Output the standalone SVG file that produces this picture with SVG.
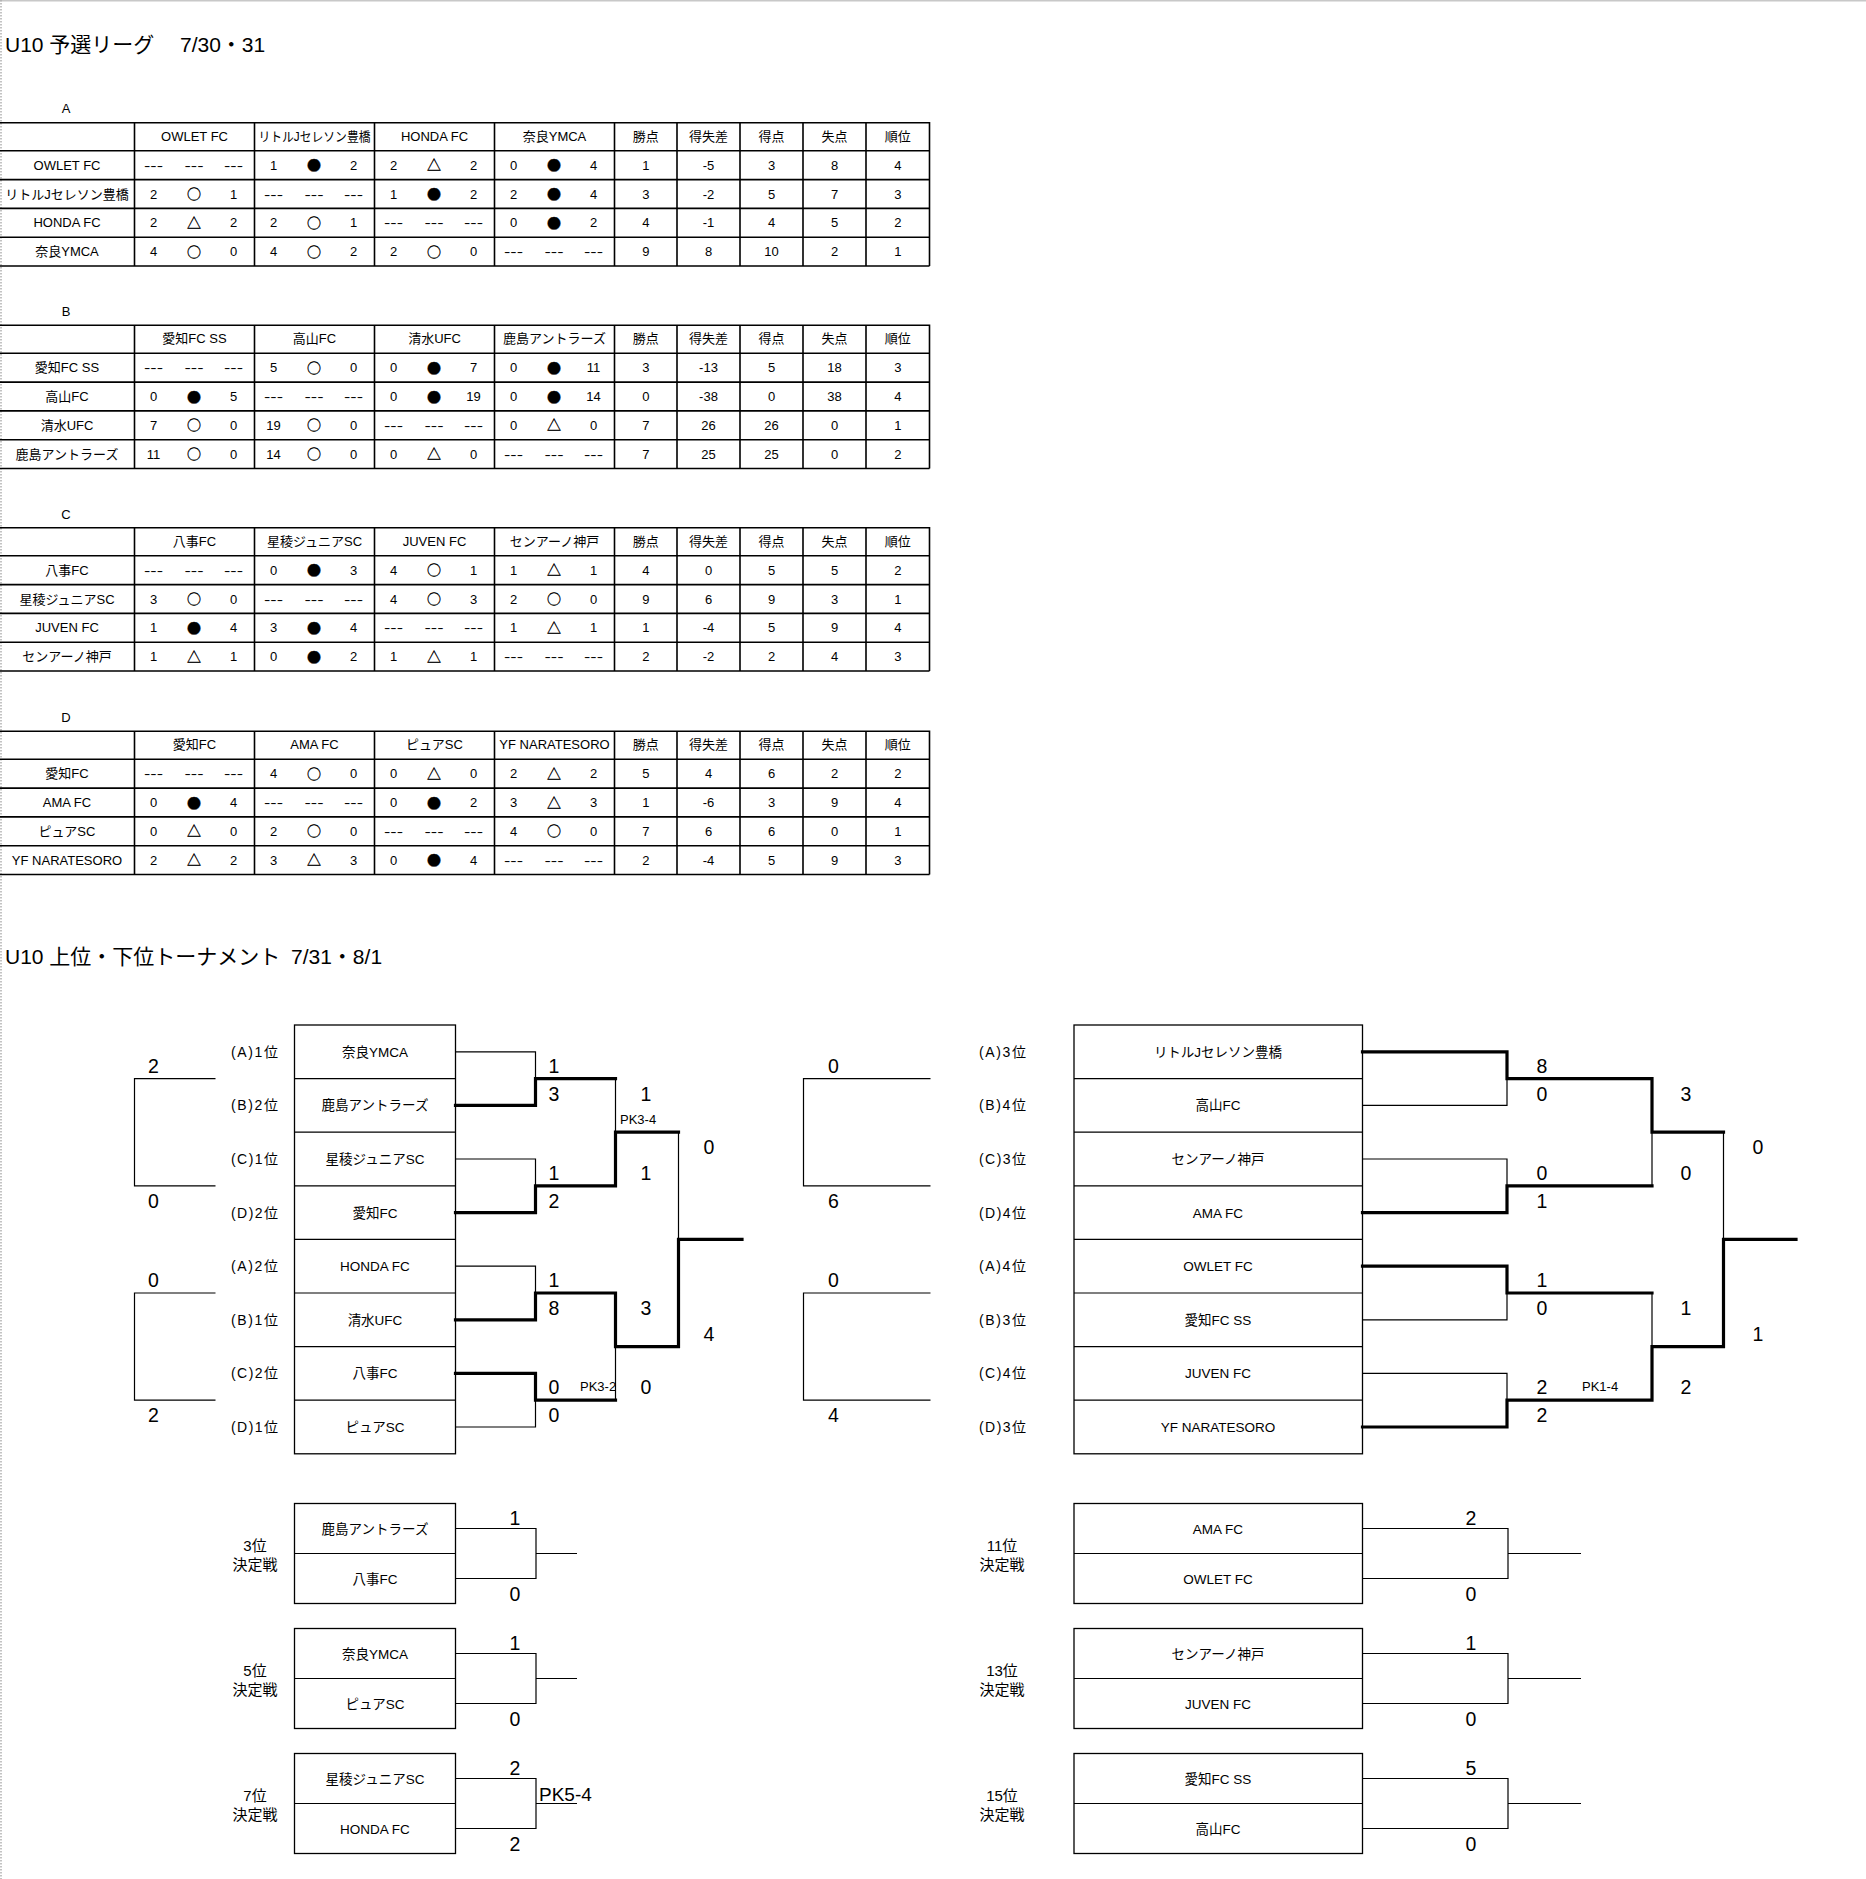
<svg xmlns="http://www.w3.org/2000/svg" width="1866" height="1879" viewBox="0 0 1866 1879">
<style>
text{font-family:"Liberation Sans","Noto Sans CJK JP",sans-serif;fill:#000}
.t{font-size:13px;text-anchor:middle}
.s{font-family:"Noto Sans CJK JP",sans-serif;font-size:14px;text-anchor:middle;stroke:#000;stroke-width:0.35}
.d{font-size:13px;text-anchor:middle}
.ttl{font-size:21px}
.g{font-size:13px;text-anchor:middle}
.grid{stroke:#000;stroke-width:1.6;fill:none}
.box{stroke:#000;stroke-width:1.3;fill:#fff}
.thin{stroke:#000;stroke-width:1.2;fill:none}
.thick{stroke:#000;stroke-width:3.2;fill:none;stroke-linecap:square}
.sc{font-size:19.5px;text-anchor:middle}
.lb{font-size:14px;text-anchor:end}
.nm{font-size:13.5px;text-anchor:middle}
.pk{font-size:13px}
.pl{font-size:15px;text-anchor:middle}
</style>
<defs>
<g id="grid"><path class="grid" d="M0 0.8H929.5M0 28.8H929.5M0 57.6H929.5M0 86.4H929.5M0 115.2H929.5M0 144H929.5M134.5 0V144M254.5 0V144M374.5 0V144M494.5 0V144M614.5 0V144M677 0V144M740 0V144M803 0V144M866 0V144M929.5 0V144"/></g>
<clipPath id="clipPK"><rect x="560" y="1370" width="55" height="30"/></clipPath>
</defs>
<rect width="1866" height="1879" fill="#fff"/>
<line x1="0" y1="0.75" x2="1866" y2="0.75" stroke="#c8c8c8" stroke-width="1.5"/>
<line x1="1" y1="0" x2="1" y2="1879" stroke="#b0b0b0" stroke-width="1.5" stroke-dasharray="1.5 1.5"/>

<text class="ttl" x="5" y="52">U10 予選リーグ <tspan x="180">7/30・31</tspan></text>

<text class="g" x="66" y="113">A</text>
<g id="table-A" transform="translate(0,122)">
<use href="#grid"/>
<text class="t" x="194.5" y="18.9">OWLET FC</text><text class="t" x="314.5" y="18.9" textLength="112" lengthAdjust="spacingAndGlyphs">リトルJセレソン豊橋</text><text class="t" x="434.5" y="18.9">HONDA FC</text><text class="t" x="554.5" y="18.9">奈良YMCA</text>
<text class="t" x="645.75" y="18.9">勝点</text><text class="t" x="708.5" y="18.9">得失差</text><text class="t" x="771.5" y="18.9">得点</text><text class="t" x="834.5" y="18.9">失点</text><text class="t" x="897.75" y="18.9">順位</text>
<text class="t" x="67" y="47.7">OWLET FC</text>
<text class="d" x="153.5" y="47.7" textLength="19" lengthAdjust="spacingAndGlyphs">---</text><text class="d" x="194" y="47.7" textLength="19" lengthAdjust="spacingAndGlyphs">---</text><text class="d" x="233.5" y="47.7" textLength="19" lengthAdjust="spacingAndGlyphs">---</text>
<text class="t" x="273.5" y="47.7">1</text><text class="s" x="314" y="48.2">●</text><text class="t" x="353.5" y="47.7">2</text>
<text class="t" x="393.5" y="47.7">2</text><text class="s" x="434" y="48.2">△</text><text class="t" x="473.5" y="47.7">2</text>
<text class="t" x="513.5" y="47.7">0</text><text class="s" x="554" y="48.2">●</text><text class="t" x="593.5" y="47.7">4</text>
<text class="t" x="645.75" y="47.7">1</text><text class="t" x="708.5" y="47.7">-5</text><text class="t" x="771.5" y="47.7">3</text><text class="t" x="834.5" y="47.7">8</text><text class="t" x="897.75" y="47.7">4</text>
<text class="t" x="67" y="76.5">リトルJセレソン豊橋</text>
<text class="t" x="153.5" y="76.5">2</text><text class="s" x="194" y="77">○</text><text class="t" x="233.5" y="76.5">1</text>
<text class="d" x="273.5" y="76.5" textLength="19" lengthAdjust="spacingAndGlyphs">---</text><text class="d" x="314" y="76.5" textLength="19" lengthAdjust="spacingAndGlyphs">---</text><text class="d" x="353.5" y="76.5" textLength="19" lengthAdjust="spacingAndGlyphs">---</text>
<text class="t" x="393.5" y="76.5">1</text><text class="s" x="434" y="77">●</text><text class="t" x="473.5" y="76.5">2</text>
<text class="t" x="513.5" y="76.5">2</text><text class="s" x="554" y="77">●</text><text class="t" x="593.5" y="76.5">4</text>
<text class="t" x="645.75" y="76.5">3</text><text class="t" x="708.5" y="76.5">-2</text><text class="t" x="771.5" y="76.5">5</text><text class="t" x="834.5" y="76.5">7</text><text class="t" x="897.75" y="76.5">3</text>
<text class="t" x="67" y="105.3">HONDA FC</text>
<text class="t" x="153.5" y="105.3">2</text><text class="s" x="194" y="105.8">△</text><text class="t" x="233.5" y="105.3">2</text>
<text class="t" x="273.5" y="105.3">2</text><text class="s" x="314" y="105.8">○</text><text class="t" x="353.5" y="105.3">1</text>
<text class="d" x="393.5" y="105.3" textLength="19" lengthAdjust="spacingAndGlyphs">---</text><text class="d" x="434" y="105.3" textLength="19" lengthAdjust="spacingAndGlyphs">---</text><text class="d" x="473.5" y="105.3" textLength="19" lengthAdjust="spacingAndGlyphs">---</text>
<text class="t" x="513.5" y="105.3">0</text><text class="s" x="554" y="105.8">●</text><text class="t" x="593.5" y="105.3">2</text>
<text class="t" x="645.75" y="105.3">4</text><text class="t" x="708.5" y="105.3">-1</text><text class="t" x="771.5" y="105.3">4</text><text class="t" x="834.5" y="105.3">5</text><text class="t" x="897.75" y="105.3">2</text>
<text class="t" x="67" y="134.1">奈良YMCA</text>
<text class="t" x="153.5" y="134.1">4</text><text class="s" x="194" y="134.6">○</text><text class="t" x="233.5" y="134.1">0</text>
<text class="t" x="273.5" y="134.1">4</text><text class="s" x="314" y="134.6">○</text><text class="t" x="353.5" y="134.1">2</text>
<text class="t" x="393.5" y="134.1">2</text><text class="s" x="434" y="134.6">○</text><text class="t" x="473.5" y="134.1">0</text>
<text class="d" x="513.5" y="134.1" textLength="19" lengthAdjust="spacingAndGlyphs">---</text><text class="d" x="554" y="134.1" textLength="19" lengthAdjust="spacingAndGlyphs">---</text><text class="d" x="593.5" y="134.1" textLength="19" lengthAdjust="spacingAndGlyphs">---</text>
<text class="t" x="645.75" y="134.1">9</text><text class="t" x="708.5" y="134.1">8</text><text class="t" x="771.5" y="134.1">10</text><text class="t" x="834.5" y="134.1">2</text><text class="t" x="897.75" y="134.1">1</text>
</g>

<text class="g" x="66" y="316">B</text>
<g id="table-B" transform="translate(0,324.5)">
<use href="#grid"/>
<text class="t" x="194.5" y="18.9">愛知FC SS</text><text class="t" x="314.5" y="18.9">高山FC</text><text class="t" x="434.5" y="18.9">清水UFC</text><text class="t" x="554.5" y="18.9">鹿島アントラーズ</text>
<text class="t" x="645.75" y="18.9">勝点</text><text class="t" x="708.5" y="18.9">得失差</text><text class="t" x="771.5" y="18.9">得点</text><text class="t" x="834.5" y="18.9">失点</text><text class="t" x="897.75" y="18.9">順位</text>
<text class="t" x="67" y="47.7">愛知FC SS</text>
<text class="d" x="153.5" y="47.7" textLength="19" lengthAdjust="spacingAndGlyphs">---</text><text class="d" x="194" y="47.7" textLength="19" lengthAdjust="spacingAndGlyphs">---</text><text class="d" x="233.5" y="47.7" textLength="19" lengthAdjust="spacingAndGlyphs">---</text>
<text class="t" x="273.5" y="47.7">5</text><text class="s" x="314" y="48.2">○</text><text class="t" x="353.5" y="47.7">0</text>
<text class="t" x="393.5" y="47.7">0</text><text class="s" x="434" y="48.2">●</text><text class="t" x="473.5" y="47.7">7</text>
<text class="t" x="513.5" y="47.7">0</text><text class="s" x="554" y="48.2">●</text><text class="t" x="593.5" y="47.7">11</text>
<text class="t" x="645.75" y="47.7">3</text><text class="t" x="708.5" y="47.7">-13</text><text class="t" x="771.5" y="47.7">5</text><text class="t" x="834.5" y="47.7">18</text><text class="t" x="897.75" y="47.7">3</text>
<text class="t" x="67" y="76.5">高山FC</text>
<text class="t" x="153.5" y="76.5">0</text><text class="s" x="194" y="77">●</text><text class="t" x="233.5" y="76.5">5</text>
<text class="d" x="273.5" y="76.5" textLength="19" lengthAdjust="spacingAndGlyphs">---</text><text class="d" x="314" y="76.5" textLength="19" lengthAdjust="spacingAndGlyphs">---</text><text class="d" x="353.5" y="76.5" textLength="19" lengthAdjust="spacingAndGlyphs">---</text>
<text class="t" x="393.5" y="76.5">0</text><text class="s" x="434" y="77">●</text><text class="t" x="473.5" y="76.5">19</text>
<text class="t" x="513.5" y="76.5">0</text><text class="s" x="554" y="77">●</text><text class="t" x="593.5" y="76.5">14</text>
<text class="t" x="645.75" y="76.5">0</text><text class="t" x="708.5" y="76.5">-38</text><text class="t" x="771.5" y="76.5">0</text><text class="t" x="834.5" y="76.5">38</text><text class="t" x="897.75" y="76.5">4</text>
<text class="t" x="67" y="105.3">清水UFC</text>
<text class="t" x="153.5" y="105.3">7</text><text class="s" x="194" y="105.8">○</text><text class="t" x="233.5" y="105.3">0</text>
<text class="t" x="273.5" y="105.3">19</text><text class="s" x="314" y="105.8">○</text><text class="t" x="353.5" y="105.3">0</text>
<text class="d" x="393.5" y="105.3" textLength="19" lengthAdjust="spacingAndGlyphs">---</text><text class="d" x="434" y="105.3" textLength="19" lengthAdjust="spacingAndGlyphs">---</text><text class="d" x="473.5" y="105.3" textLength="19" lengthAdjust="spacingAndGlyphs">---</text>
<text class="t" x="513.5" y="105.3">0</text><text class="s" x="554" y="105.8">△</text><text class="t" x="593.5" y="105.3">0</text>
<text class="t" x="645.75" y="105.3">7</text><text class="t" x="708.5" y="105.3">26</text><text class="t" x="771.5" y="105.3">26</text><text class="t" x="834.5" y="105.3">0</text><text class="t" x="897.75" y="105.3">1</text>
<text class="t" x="67" y="134.1">鹿島アントラーズ</text>
<text class="t" x="153.5" y="134.1">11</text><text class="s" x="194" y="134.6">○</text><text class="t" x="233.5" y="134.1">0</text>
<text class="t" x="273.5" y="134.1">14</text><text class="s" x="314" y="134.6">○</text><text class="t" x="353.5" y="134.1">0</text>
<text class="t" x="393.5" y="134.1">0</text><text class="s" x="434" y="134.6">△</text><text class="t" x="473.5" y="134.1">0</text>
<text class="d" x="513.5" y="134.1" textLength="19" lengthAdjust="spacingAndGlyphs">---</text><text class="d" x="554" y="134.1" textLength="19" lengthAdjust="spacingAndGlyphs">---</text><text class="d" x="593.5" y="134.1" textLength="19" lengthAdjust="spacingAndGlyphs">---</text>
<text class="t" x="645.75" y="134.1">7</text><text class="t" x="708.5" y="134.1">25</text><text class="t" x="771.5" y="134.1">25</text><text class="t" x="834.5" y="134.1">0</text><text class="t" x="897.75" y="134.1">2</text>
</g>

<text class="g" x="66" y="518.5">C</text>
<g id="table-C" transform="translate(0,527)">
<use href="#grid"/>
<text class="t" x="194.5" y="18.9">八事FC</text><text class="t" x="314.5" y="18.9">星稜ジュニアSC</text><text class="t" x="434.5" y="18.9">JUVEN FC</text><text class="t" x="554.5" y="18.9">センアーノ神戸</text>
<text class="t" x="645.75" y="18.9">勝点</text><text class="t" x="708.5" y="18.9">得失差</text><text class="t" x="771.5" y="18.9">得点</text><text class="t" x="834.5" y="18.9">失点</text><text class="t" x="897.75" y="18.9">順位</text>
<text class="t" x="67" y="47.7">八事FC</text>
<text class="d" x="153.5" y="47.7" textLength="19" lengthAdjust="spacingAndGlyphs">---</text><text class="d" x="194" y="47.7" textLength="19" lengthAdjust="spacingAndGlyphs">---</text><text class="d" x="233.5" y="47.7" textLength="19" lengthAdjust="spacingAndGlyphs">---</text>
<text class="t" x="273.5" y="47.7">0</text><text class="s" x="314" y="48.2">●</text><text class="t" x="353.5" y="47.7">3</text>
<text class="t" x="393.5" y="47.7">4</text><text class="s" x="434" y="48.2">○</text><text class="t" x="473.5" y="47.7">1</text>
<text class="t" x="513.5" y="47.7">1</text><text class="s" x="554" y="48.2">△</text><text class="t" x="593.5" y="47.7">1</text>
<text class="t" x="645.75" y="47.7">4</text><text class="t" x="708.5" y="47.7">0</text><text class="t" x="771.5" y="47.7">5</text><text class="t" x="834.5" y="47.7">5</text><text class="t" x="897.75" y="47.7">2</text>
<text class="t" x="67" y="76.5">星稜ジュニアSC</text>
<text class="t" x="153.5" y="76.5">3</text><text class="s" x="194" y="77">○</text><text class="t" x="233.5" y="76.5">0</text>
<text class="d" x="273.5" y="76.5" textLength="19" lengthAdjust="spacingAndGlyphs">---</text><text class="d" x="314" y="76.5" textLength="19" lengthAdjust="spacingAndGlyphs">---</text><text class="d" x="353.5" y="76.5" textLength="19" lengthAdjust="spacingAndGlyphs">---</text>
<text class="t" x="393.5" y="76.5">4</text><text class="s" x="434" y="77">○</text><text class="t" x="473.5" y="76.5">3</text>
<text class="t" x="513.5" y="76.5">2</text><text class="s" x="554" y="77">○</text><text class="t" x="593.5" y="76.5">0</text>
<text class="t" x="645.75" y="76.5">9</text><text class="t" x="708.5" y="76.5">6</text><text class="t" x="771.5" y="76.5">9</text><text class="t" x="834.5" y="76.5">3</text><text class="t" x="897.75" y="76.5">1</text>
<text class="t" x="67" y="105.3">JUVEN FC</text>
<text class="t" x="153.5" y="105.3">1</text><text class="s" x="194" y="105.8">●</text><text class="t" x="233.5" y="105.3">4</text>
<text class="t" x="273.5" y="105.3">3</text><text class="s" x="314" y="105.8">●</text><text class="t" x="353.5" y="105.3">4</text>
<text class="d" x="393.5" y="105.3" textLength="19" lengthAdjust="spacingAndGlyphs">---</text><text class="d" x="434" y="105.3" textLength="19" lengthAdjust="spacingAndGlyphs">---</text><text class="d" x="473.5" y="105.3" textLength="19" lengthAdjust="spacingAndGlyphs">---</text>
<text class="t" x="513.5" y="105.3">1</text><text class="s" x="554" y="105.8">△</text><text class="t" x="593.5" y="105.3">1</text>
<text class="t" x="645.75" y="105.3">1</text><text class="t" x="708.5" y="105.3">-4</text><text class="t" x="771.5" y="105.3">5</text><text class="t" x="834.5" y="105.3">9</text><text class="t" x="897.75" y="105.3">4</text>
<text class="t" x="67" y="134.1">センアーノ神戸</text>
<text class="t" x="153.5" y="134.1">1</text><text class="s" x="194" y="134.6">△</text><text class="t" x="233.5" y="134.1">1</text>
<text class="t" x="273.5" y="134.1">0</text><text class="s" x="314" y="134.6">●</text><text class="t" x="353.5" y="134.1">2</text>
<text class="t" x="393.5" y="134.1">1</text><text class="s" x="434" y="134.6">△</text><text class="t" x="473.5" y="134.1">1</text>
<text class="d" x="513.5" y="134.1" textLength="19" lengthAdjust="spacingAndGlyphs">---</text><text class="d" x="554" y="134.1" textLength="19" lengthAdjust="spacingAndGlyphs">---</text><text class="d" x="593.5" y="134.1" textLength="19" lengthAdjust="spacingAndGlyphs">---</text>
<text class="t" x="645.75" y="134.1">2</text><text class="t" x="708.5" y="134.1">-2</text><text class="t" x="771.5" y="134.1">2</text><text class="t" x="834.5" y="134.1">4</text><text class="t" x="897.75" y="134.1">3</text>
</g>

<text class="g" x="66" y="721.5">D</text>
<g id="table-D" transform="translate(0,730.5)">
<use href="#grid"/>
<text class="t" x="194.5" y="18.9">愛知FC</text><text class="t" x="314.5" y="18.9">AMA FC</text><text class="t" x="434.5" y="18.9">ピュアSC</text><text class="t" x="554.5" y="18.9">YF NARATESORO</text>
<text class="t" x="645.75" y="18.9">勝点</text><text class="t" x="708.5" y="18.9">得失差</text><text class="t" x="771.5" y="18.9">得点</text><text class="t" x="834.5" y="18.9">失点</text><text class="t" x="897.75" y="18.9">順位</text>
<text class="t" x="67" y="47.7">愛知FC</text>
<text class="d" x="153.5" y="47.7" textLength="19" lengthAdjust="spacingAndGlyphs">---</text><text class="d" x="194" y="47.7" textLength="19" lengthAdjust="spacingAndGlyphs">---</text><text class="d" x="233.5" y="47.7" textLength="19" lengthAdjust="spacingAndGlyphs">---</text>
<text class="t" x="273.5" y="47.7">4</text><text class="s" x="314" y="48.2">○</text><text class="t" x="353.5" y="47.7">0</text>
<text class="t" x="393.5" y="47.7">0</text><text class="s" x="434" y="48.2">△</text><text class="t" x="473.5" y="47.7">0</text>
<text class="t" x="513.5" y="47.7">2</text><text class="s" x="554" y="48.2">△</text><text class="t" x="593.5" y="47.7">2</text>
<text class="t" x="645.75" y="47.7">5</text><text class="t" x="708.5" y="47.7">4</text><text class="t" x="771.5" y="47.7">6</text><text class="t" x="834.5" y="47.7">2</text><text class="t" x="897.75" y="47.7">2</text>
<text class="t" x="67" y="76.5">AMA FC</text>
<text class="t" x="153.5" y="76.5">0</text><text class="s" x="194" y="77">●</text><text class="t" x="233.5" y="76.5">4</text>
<text class="d" x="273.5" y="76.5" textLength="19" lengthAdjust="spacingAndGlyphs">---</text><text class="d" x="314" y="76.5" textLength="19" lengthAdjust="spacingAndGlyphs">---</text><text class="d" x="353.5" y="76.5" textLength="19" lengthAdjust="spacingAndGlyphs">---</text>
<text class="t" x="393.5" y="76.5">0</text><text class="s" x="434" y="77">●</text><text class="t" x="473.5" y="76.5">2</text>
<text class="t" x="513.5" y="76.5">3</text><text class="s" x="554" y="77">△</text><text class="t" x="593.5" y="76.5">3</text>
<text class="t" x="645.75" y="76.5">1</text><text class="t" x="708.5" y="76.5">-6</text><text class="t" x="771.5" y="76.5">3</text><text class="t" x="834.5" y="76.5">9</text><text class="t" x="897.75" y="76.5">4</text>
<text class="t" x="67" y="105.3">ピュアSC</text>
<text class="t" x="153.5" y="105.3">0</text><text class="s" x="194" y="105.8">△</text><text class="t" x="233.5" y="105.3">0</text>
<text class="t" x="273.5" y="105.3">2</text><text class="s" x="314" y="105.8">○</text><text class="t" x="353.5" y="105.3">0</text>
<text class="d" x="393.5" y="105.3" textLength="19" lengthAdjust="spacingAndGlyphs">---</text><text class="d" x="434" y="105.3" textLength="19" lengthAdjust="spacingAndGlyphs">---</text><text class="d" x="473.5" y="105.3" textLength="19" lengthAdjust="spacingAndGlyphs">---</text>
<text class="t" x="513.5" y="105.3">4</text><text class="s" x="554" y="105.8">○</text><text class="t" x="593.5" y="105.3">0</text>
<text class="t" x="645.75" y="105.3">7</text><text class="t" x="708.5" y="105.3">6</text><text class="t" x="771.5" y="105.3">6</text><text class="t" x="834.5" y="105.3">0</text><text class="t" x="897.75" y="105.3">1</text>
<text class="t" x="67" y="134.1">YF NARATESORO</text>
<text class="t" x="153.5" y="134.1">2</text><text class="s" x="194" y="134.6">△</text><text class="t" x="233.5" y="134.1">2</text>
<text class="t" x="273.5" y="134.1">3</text><text class="s" x="314" y="134.6">△</text><text class="t" x="353.5" y="134.1">3</text>
<text class="t" x="393.5" y="134.1">0</text><text class="s" x="434" y="134.6">●</text><text class="t" x="473.5" y="134.1">4</text>
<text class="d" x="513.5" y="134.1" textLength="19" lengthAdjust="spacingAndGlyphs">---</text><text class="d" x="554" y="134.1" textLength="19" lengthAdjust="spacingAndGlyphs">---</text><text class="d" x="593.5" y="134.1" textLength="19" lengthAdjust="spacingAndGlyphs">---</text>
<text class="t" x="645.75" y="134.1">2</text><text class="t" x="708.5" y="134.1">-4</text><text class="t" x="771.5" y="134.1">5</text><text class="t" x="834.5" y="134.1">9</text><text class="t" x="897.75" y="134.1">3</text>
</g>

<text class="ttl" x="5" y="964">U10 上位・下位トーナメント <tspan x="291">7/31・8/1</tspan></text>

<g id="bracket-upper">
<rect class="box" x="294.5" y="1025" width="161" height="428.8"/>
<path class="thin" d="M294.5 1078.6H455.5M294.5 1132.2H455.5M294.5 1185.8H455.5M294.5 1239.4H455.5M294.5 1293H455.5M294.5 1346.6H455.5M294.5 1400.2H455.5"/>
<text class="lb" x="278" y="1056.8" textLength="47" lengthAdjust="spacing">(A)1位</text><text class="nm" x="375" y="1056.8">奈良YMCA</text>
<text class="lb" x="278" y="1110.4" textLength="47" lengthAdjust="spacing">(B)2位</text><text class="nm" x="375" y="1110.4">鹿島アントラーズ</text>
<text class="lb" x="278" y="1164" textLength="47" lengthAdjust="spacing">(C)1位</text><text class="nm" x="375" y="1164">星稜ジュニアSC</text>
<text class="lb" x="278" y="1217.6" textLength="47" lengthAdjust="spacing">(D)2位</text><text class="nm" x="375" y="1217.6">愛知FC</text>
<text class="lb" x="278" y="1271.2" textLength="47" lengthAdjust="spacing">(A)2位</text><text class="nm" x="375" y="1271.2">HONDA FC</text>
<text class="lb" x="278" y="1324.8" textLength="47" lengthAdjust="spacing">(B)1位</text><text class="nm" x="375" y="1324.8">清水UFC</text>
<text class="lb" x="278" y="1378.4" textLength="47" lengthAdjust="spacing">(C)2位</text><text class="nm" x="375" y="1378.4">八事FC</text>
<text class="lb" x="278" y="1432" textLength="47" lengthAdjust="spacing">(D)1位</text><text class="nm" x="375" y="1432">ピュアSC</text>
</g>

<g id="bracket-lower">
<rect class="box" x="1074" y="1025" width="288.5" height="428.8"/>
<path class="thin" d="M1074 1078.6H1362.5M1074 1132.2H1362.5M1074 1185.8H1362.5M1074 1239.4H1362.5M1074 1293H1362.5M1074 1346.6H1362.5M1074 1400.2H1362.5"/>
<text class="lb" x="1026" y="1056.8" textLength="47" lengthAdjust="spacing">(A)3位</text><text class="nm" x="1218" y="1056.8">リトルJセレソン豊橋</text>
<text class="lb" x="1026" y="1110.4" textLength="47" lengthAdjust="spacing">(B)4位</text><text class="nm" x="1218" y="1110.4">高山FC</text>
<text class="lb" x="1026" y="1164" textLength="47" lengthAdjust="spacing">(C)3位</text><text class="nm" x="1218" y="1164">センアーノ神戸</text>
<text class="lb" x="1026" y="1217.6" textLength="47" lengthAdjust="spacing">(D)4位</text><text class="nm" x="1218" y="1217.6">AMA FC</text>
<text class="lb" x="1026" y="1271.2" textLength="47" lengthAdjust="spacing">(A)4位</text><text class="nm" x="1218" y="1271.2">OWLET FC</text>
<text class="lb" x="1026" y="1324.8" textLength="47" lengthAdjust="spacing">(B)3位</text><text class="nm" x="1218" y="1324.8">愛知FC SS</text>
<text class="lb" x="1026" y="1378.4" textLength="47" lengthAdjust="spacing">(C)4位</text><text class="nm" x="1218" y="1378.4">JUVEN FC</text>
<text class="lb" x="1026" y="1432" textLength="47" lengthAdjust="spacing">(D)3位</text><text class="nm" x="1218" y="1432">YF NARATESORO</text>
</g>

<g id="connectors">
<path class="thin" d="M455.5 1051.8H535.5V1078.6M455.5 1159H535.5V1185.8M615.5 1078.6V1132.2M455.5 1266.2H535.5V1293M455.5 1427H535.5V1400.2M615.5 1400.2V1346.6M678.5 1132.2V1239.4"/>
<path class="thick" d="M455.5 1105.4H535.5V1078.6H615.5M455.5 1212.6H535.5V1185.8H615.5M615.5 1185.8V1132.2H678.5M455.5 1319.8H535.5V1293H615.5M455.5 1373.4H535.5V1400.2H615.5M615.5 1293V1346.6H678.5M678.5 1346.6V1239.4H742"/>
<path class="thin" d="M215.5 1078.6H134.5V1185.8H215.5M215.5 1293H134.5V1400.2H215.5"/>
<path class="thin" d="M1362.5 1105.4H1507V1078.6M1362.5 1159H1507V1185.8M1652 1185.8V1132.2M1362.5 1319.8H1507V1293M1362.5 1373.4H1507V1400.2M1652 1293V1346.6M1723.5 1132.2V1239.4"/>
<path class="thick" d="M1362.5 1051.8H1507V1078.6H1652M1362.5 1212.6H1507V1185.8H1652M1652 1078.6V1132.2H1723.5M1362.5 1266.2H1507V1293H1652M1362.5 1427H1507V1400.2H1652M1652 1400.2V1346.6H1723.5M1723.5 1346.6V1239.4H1796"/>
<path class="thin" d="M930.5 1078.6H803.5V1185.8H930.5M930.5 1293H803.5V1400.2H930.5"/>
<path class="thin" d="M455.5 1528.5H536V1578.5H455.5M536 1553.5H577M455.5 1653.5H536V1703.5H455.5M536 1678.5H577M455.5 1778.5H536V1828.5H455.5M536 1803.5H577"/>
<path class="thin" d="M1362.5 1528.5H1508V1578.5H1362.5M1508 1553.5H1581M1362.5 1653.5H1508V1703.5H1362.5M1508 1678.5H1581M1362.5 1778.5H1508V1828.5H1362.5M1508 1803.5H1581"/>
</g>

<g id="scores">
<text class="sc" x="153.5" y="1072.6">2</text><text class="sc" x="153.5" y="1207.8">0</text>
<text class="sc" x="153.5" y="1287">0</text><text class="sc" x="153.5" y="1422.2">2</text>
<text class="sc" x="554" y="1072.6">1</text><text class="sc" x="554" y="1100.6">3</text>
<text class="sc" x="554" y="1179.8">1</text><text class="sc" x="554" y="1207.8">2</text>
<text class="sc" x="554" y="1287">1</text><text class="sc" x="554" y="1315">8</text>
<text class="sc" x="554" y="1394.2">0</text><text class="sc" x="554" y="1422.2">0</text>
<text class="sc" x="646" y="1100.6">1</text><text class="sc" x="646" y="1179.8">1</text>
<text class="sc" x="646" y="1315">3</text><text class="sc" x="646" y="1394.2">0</text>
<text class="sc" x="709" y="1154.2">0</text><text class="sc" x="709" y="1340.6">4</text>
<text class="pk" x="620" y="1124">PK3-4</text>
<text class="pk" x="580" y="1391" clip-path="url(#clipPK)">PK3-2</text>
<text class="sc" x="833.5" y="1072.6">0</text><text class="sc" x="833.5" y="1207.8">6</text>
<text class="sc" x="833.5" y="1287">0</text><text class="sc" x="833.5" y="1422.2">4</text>
<text class="sc" x="1542" y="1072.6">8</text><text class="sc" x="1542" y="1100.6">0</text>
<text class="sc" x="1542" y="1179.8">0</text><text class="sc" x="1542" y="1207.8">1</text>
<text class="sc" x="1542" y="1287">1</text><text class="sc" x="1542" y="1315">0</text>
<text class="sc" x="1542" y="1394.2">2</text><text class="sc" x="1542" y="1422.2">2</text>
<text class="sc" x="1686" y="1100.6">3</text><text class="sc" x="1686" y="1179.8">0</text>
<text class="sc" x="1686" y="1315">1</text><text class="sc" x="1686" y="1394.2">2</text>
<text class="sc" x="1758" y="1154.2">0</text><text class="sc" x="1758" y="1340.6">1</text>
<text class="pk" x="1582" y="1391">PK1-4</text>
</g>

<g id="match-3rd">
<rect class="box" x="294.5" y="1503.5" width="161" height="100"/>
<line class="thin" x1="294.5" y1="1553.5" x2="455.5" y2="1553.5"/>
<text class="nm" x="375" y="1533.5">鹿島アントラーズ</text><text class="nm" x="375" y="1583.5">八事FC</text>
<text class="pl" x="255" y="1550.5">3位</text><text class="pl" x="255" y="1569.5">決定戦</text>
<text class="sc" x="515" y="1525">1</text><text class="sc" x="515" y="1600.5">0</text>
</g>
<g id="match-5th">
<rect class="box" x="294.5" y="1628.5" width="161" height="100"/>
<line class="thin" x1="294.5" y1="1678.5" x2="455.5" y2="1678.5"/>
<text class="nm" x="375" y="1658.5">奈良YMCA</text><text class="nm" x="375" y="1708.5">ピュアSC</text>
<text class="pl" x="255" y="1675.5">5位</text><text class="pl" x="255" y="1694.5">決定戦</text>
<text class="sc" x="515" y="1650">1</text><text class="sc" x="515" y="1725.5">0</text>
</g>
<g id="match-7th">
<rect class="box" x="294.5" y="1753.5" width="161" height="100"/>
<line class="thin" x1="294.5" y1="1803.5" x2="455.5" y2="1803.5"/>
<text class="nm" x="375" y="1783.5">星稜ジュニアSC</text><text class="nm" x="375" y="1833.5">HONDA FC</text>
<text class="pl" x="255" y="1800.5">7位</text><text class="pl" x="255" y="1819.5">決定戦</text>
<text class="sc" x="515" y="1775">2</text><text class="sc" x="515" y="1850.5">2</text>
<text x="539" y="1801" style="font-size:19px">PK5-4</text>
</g>
<g id="match-11th">
<rect class="box" x="1074" y="1503.5" width="288.5" height="100"/>
<line class="thin" x1="1074" y1="1553.5" x2="1362.5" y2="1553.5"/>
<text class="nm" x="1218" y="1533.5">AMA FC</text><text class="nm" x="1218" y="1583.5">OWLET FC</text>
<text class="pl" x="1002" y="1550.5">11位</text><text class="pl" x="1002" y="1569.5">決定戦</text>
<text class="sc" x="1471" y="1525">2</text><text class="sc" x="1471" y="1600.5">0</text>
</g>
<g id="match-13th">
<rect class="box" x="1074" y="1628.5" width="288.5" height="100"/>
<line class="thin" x1="1074" y1="1678.5" x2="1362.5" y2="1678.5"/>
<text class="nm" x="1218" y="1658.5">センアーノ神戸</text><text class="nm" x="1218" y="1708.5">JUVEN FC</text>
<text class="pl" x="1002" y="1675.5">13位</text><text class="pl" x="1002" y="1694.5">決定戦</text>
<text class="sc" x="1471" y="1650">1</text><text class="sc" x="1471" y="1725.5">0</text>
</g>
<g id="match-15th">
<rect class="box" x="1074" y="1753.5" width="288.5" height="100"/>
<line class="thin" x1="1074" y1="1803.5" x2="1362.5" y2="1803.5"/>
<text class="nm" x="1218" y="1783.5">愛知FC SS</text><text class="nm" x="1218" y="1833.5">高山FC</text>
<text class="pl" x="1002" y="1800.5">15位</text><text class="pl" x="1002" y="1819.5">決定戦</text>
<text class="sc" x="1471" y="1775">5</text><text class="sc" x="1471" y="1850.5">0</text>
</g>
</svg>
